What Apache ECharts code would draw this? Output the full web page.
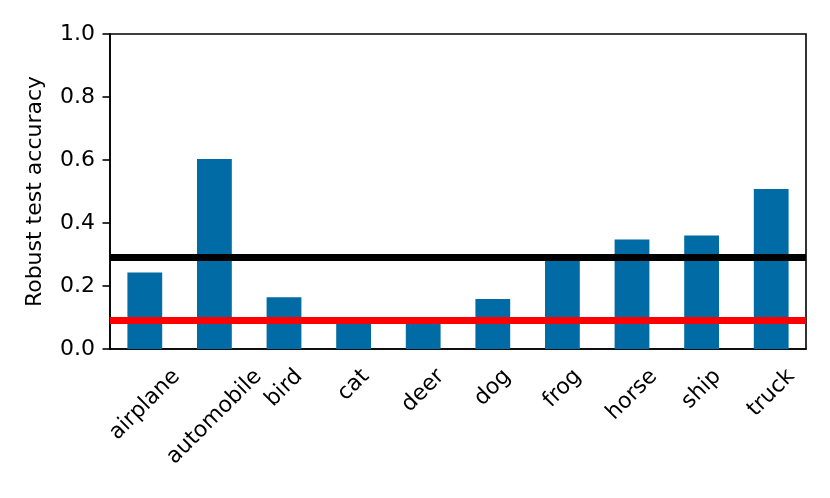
<!DOCTYPE html>
<html>
<head>
<meta charset="utf-8">
<script src="https://cdn.jsdelivr.net/npm/echarts@6/dist/echarts.min.js"></script>
<style>
  html, body { margin: 0; padding: 0; background: #fff; }
  #chart { width: 830px; height: 498px; }
</style>
</head>
<body>
<div id="chart"></div>
<script>
  const categories = ['airplane', 'automobile', 'bird', 'cat', 'deer', 'dog', 'frog', 'horse', 'ship', 'truck'];
  const accuracy = [0.243, 0.603, 0.164, 0.084, 0.098, 0.159, 0.28, 0.348, 0.36, 0.508];
  const blackLevel = 0.287;
  const redLevel = 0.086;
  const yTicks = [0, 0.2, 0.4, 0.6, 0.8, 1.0];

  const FONT = 'DejaVu Sans';
  const FS = 22;
  const TICK = 7.5;

  const chart = echarts.init(document.getElementById('chart'));
  chart.setOption({
    animation: false,
    textStyle: { fontFamily: FONT },
    grid: {
      left: 110, right: 24, top: 34, bottom: 149,
      show: true, borderColor: '#000', borderWidth: 1.6,
      backgroundColor: 'transparent'
    },
    xAxis: {
      type: 'category',
      data: categories,
      axisLine: { lineStyle: { color: '#000', width: 1.6 } },
      axisTick: { alignWithLabel: true, length: TICK, lineStyle: { color: '#000', width: 1.6 } },
      axisLabel: { show: false, interval: 0 },
      splitLine: { show: false }
    },
    yAxis: {
      type: 'value',
      min: yTicks[0],
      max: yTicks[yTicks.length - 1],
      interval: 0.2,
      name: 'Robust test accuracy',
      nameLocation: 'middle',
      nameGap: 64,
      nameTextStyle: { color: '#000', fontSize: FS, fontFamily: FONT },
      axisLine: { show: true, lineStyle: { color: '#000', width: 1.6 } },
      axisTick: { show: true, length: TICK, lineStyle: { color: '#000', width: 1.6 } },
      axisLabel: {
        margin: 15,
        color: '#000',
        fontSize: FS,
        fontFamily: FONT,
        formatter: v => v.toFixed(1)
      },
      splitLine: { show: false }
    },
    series: [
      {
        type: 'bar',
        data: accuracy,
        barWidth: '50%',
        itemStyle: { color: '#006ba4' },
        markLine: {
          silent: true,
          symbol: 'none',
          label: { show: false },
          data: [
            { yAxis: blackLevel, lineStyle: { color: '#000', width: 7, type: 'solid' } },
            { yAxis: redLevel, lineStyle: { color: '#ff0000', width: 7, type: 'solid' } }
          ]
        }
      }
    ]
  });

  // x labels like matplotlib rotation=45: the rotated box is centred under the tick
  const ctx = document.createElement('canvas').getContext('2d');
  ctx.font = FS + 'px "' + FONT + '"';
  const baseY = chart.convertToPixel({ yAxisIndex: 0 }, 0);
  const h = FS * 1.164;
  chart.setOption({
    graphic: categories.map(c => {
      const w = ctx.measureText(c).width;
      return {
        type: 'text',
        x: chart.convertToPixel({ xAxisIndex: 0 }, c),
        y: baseY + 2 * TICK + (w + h) / (2 * Math.SQRT2),
        rotation: Math.PI / 4,
        silent: true,
        style: {
          text: c,
          fill: '#000',
          font: FS + 'px "' + FONT + '"',
          align: 'center',
          verticalAlign: 'middle'
        }
      };
    })
  });
</script>
</body>
</html>
